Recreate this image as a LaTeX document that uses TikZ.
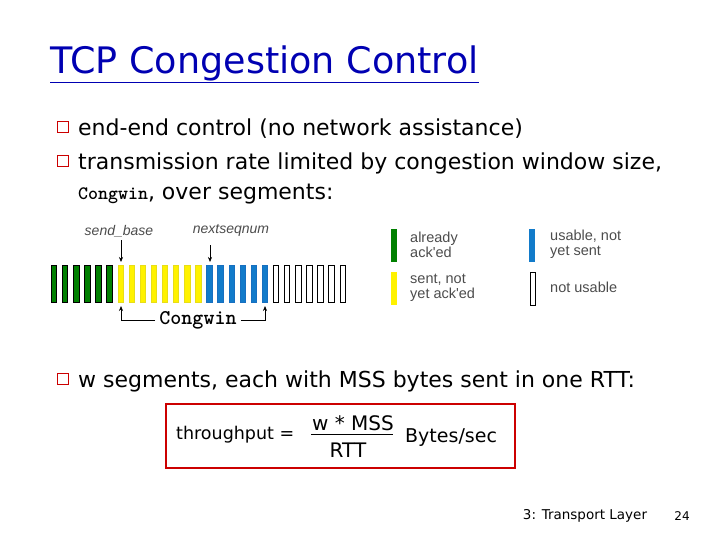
\documentclass[tikz,border=0pt]{standalone}
\usepackage{fontspec}
\usetikzlibrary{arrows.meta}
\setmainfont{DejaVu Sans}
\newfontfamily\legfont{Liberation Sans}
\begin{document}
\begin{tikzpicture}[x=1pt,y=-1pt,
  txt/.style={anchor=west,inner sep=0pt,font=\fontsize{22}{24}\selectfont},
  bul/.style={draw=red!80!black,line width=0.8pt,minimum size=11pt,inner sep=0pt},
  lab/.style={inner sep=0pt,font=\legfont\itshape\fontsize{14}{15}\selectfont,text=black!70},
  leg/.style={anchor=west,inner sep=0pt,align=left,font=\legfont\fontsize{14.5}{15}\selectfont,text=black!70},
  arr/.style={-{Stealth[length=5pt,width=4pt]},line width=0.6pt}]
\useasboundingbox (0,0) rectangle (720,540);
\node[anchor=west,inner sep=0pt,font=\fontsize{36.5}{40}\selectfont,text=blue!70!black] (title) at (50,64) {\underline{TCP Congestion Control}};
\node[bul] (b1) at (63,127) {};
\node[txt] (t1) at (78,129) {end-end control (no network assistance)};
\node[bul] (b2) at (63,161) {};
\node[txt] (t2) at (78,163) {transmission rate limited by congestion window size,};
\node[txt] (t3) at (78,194) {{\ttfamily\bfseries\fontsize{19}{20}\selectfont Congwin}, over segments:};
% segments
\foreach \i in {0,...,26}{
  \pgfmathsetmacro{\xx}{54+\i*11.1}
  \ifnum\i<6 \def\cc{green!50!black}\def\dd{black}\else
  \ifnum\i<14 \def\cc{yellow}\def\dd{yellow!90!black}\else
  \ifnum\i<20 \def\cc{cyan!60!blue}\def\dd{cyan!50!blue}\else
  \def\cc{white}\def\dd{black}\fi\fi\fi
  \draw[fill=\cc,draw=\dd,line width=0.8pt] (\xx-2.7,265) rectangle (\xx+2.7,302);
}
\node[lab] (sb) at (119,231) {send\_base};
\node[lab] (ns) at (231,230) {nextseqnum};
\coordinate (sbt) at (121,262);
\coordinate (nst) at (210,262);
\draw[arr] (121,240) -- (sbt);
\draw[arr] (210,245) -- (nst);
\node[inner sep=0pt,font=\ttfamily\bfseries\fontsize{21}{22}\selectfont] (cw) at (198,320) {Congwin};
\coordinate (cl) at (121,306);
\coordinate (cr) at (265,306);
\draw[arr] ([xshift=-4pt]cw.west) -- (121,320) -- (cl);
\draw[arr] ([xshift=4pt]cw.east) -- (265,320) -- (cr);
% legend
\fill[green!50!black] (391,229) rectangle (397,262);
\node[leg] (l1) at (410,245) {already\\ack'ed};
\fill[cyan!60!blue] (529,229) rectangle (535,262);
\node[leg] (l2) at (550,244) {usable, not\\yet sent};
\fill[yellow] (391,272) rectangle (397,305);
\node[leg] (l3) at (410,288) {sent, not\\yet ack'ed};
\draw[line width=1pt] (530,272) rectangle (535,305);
\node[leg] (l4) at (550,287) {not usable};
% third bullet
\node[bul] (b3) at (63,379) {};
\node[txt] (t4) at (78,381) {w segments, each with MSS bytes sent in one RTT:};
\draw[red!80!black,line width=1.5pt] (166,404) rectangle (515,468);
\node[anchor=west,inner sep=0pt,font=\fontsize{17.5}{22}\selectfont] (tp) at (176,435) {throughput =};
\node[inner sep=0pt,font=\fontsize{20}{22}\selectfont] (num) at (353,423) {w * MSS};
\node[inner sep=0pt,font=\fontsize{20}{22}\selectfont] (den) at (348,450) {RTT};
\draw[line width=0.8pt] (311,434) -- (393,434);
\node[anchor=west,inner sep=0pt,font=\fontsize{19}{22}\selectfont] (bs) at (405,438) {Bytes/sec};
\node[inner sep=0pt,font=\fontsize{13.5}{15}\selectfont] (ft) at (585,516) {3: Transport Layer};
\node[inner sep=0pt,font=\fontsize{12}{14}\selectfont] (pg) at (682,516) {24};
\end{tikzpicture}
\end{document}
